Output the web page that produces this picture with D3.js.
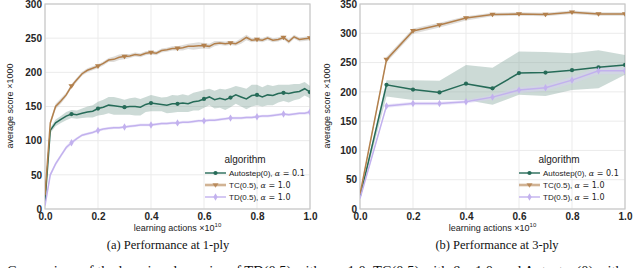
<!DOCTYPE html>
<html>
<head>
<meta charset="utf-8">
<script src="https://cdn.jsdelivr.net/npm/d3@7"></script>
<style>
  body { margin: 0; background: #fff; }
  svg { display: block; }
</style>
</head>
<body>
<svg id="fig" width="640" height="268" font-family="'Liberation Sans', Arial, sans-serif"></svg>
<script>
// ---- data: panel (a) 1-ply, x in steps of 0.02 ----
const xA = d3.range(0, 51).map(i => +(i * 0.02).toFixed(2));
const autoA = [10,115,126,131,136,139,138,140,142,143,147,149,152,151,150,149,150,150,149,153,155,154,153,152,154,154,155,154,157,158,161,164,160,162,160,163,167,164,161,166,167,164,167,166,169,170,169,171,172,176,171];
const autoSpreadA = [4,4,5,5,6,6,6,7,8,9,10,11,12,13,12,11,12,13,12,11,12,11,10,12,13,12,13,12,13,14,13,12,13,14,15,14,13,14,15,16,15,14,15,14,13,12,13,12,11,10,9];
const tcA = [20,126,150,158,167,180,189,198,203,206,209,213,218,219,222,223,224,226,225,228,229,228,232,233,235,235,236,238,238,239,239,238,242,243,242,243,242,246,251,247,248,247,250,247,248,251,245,252,248,249,250];
const tcSpreadA = [3,4,4,4,3,3,3,3,3,3,3,3,3,4,4,4,3,3,3,3,3,3,3,3,3,3,4,4,5,5,4,4,4,3,3,3,3,4,4,3,3,3,3,3,3,3,3,3,3,3,3];
const tdA = [5,50,66,78,90,97,103,108,110,112,115,117,118,119,119,120,121,122,123,123,123,124,125,125,126,126,127,127,128,129,129,130,130,131,132,133,133,133,134,134,135,136,136,137,138,139,138,139,140,140,142];
const tdSpreadA = [2,3,3,3,3,3,2,2,2,2,2,2,2,2,2,2,2,2,2,2,2,2,2,2,2,2,2,2,2,2,2,2,2,2,2,2,2,2,2,2,2,2,2,2,2,2,2,2,2,2,3];

// ---- data: panel (b) 3-ply, x in steps of 0.1 ----
const xB = d3.range(0, 11).map(i => +(i * 0.1).toFixed(1));
const autoB = [20,212,204,199,214,206,232,233,237,242,246];
const autoLoB = [18,192,186,186,186,178,195,193,203,206,229];
const autoHiB = [22,220,220,219,246,241,269,268,266,271,263];
const tcB = [25,255,304,314,326,332,333,332,336,333,333];
const tcLoB = [22,250,299,310,322,329,330,329,333,330,330];
const tcHiB = [28,260,308,318,329,335,336,335,339,336,336];
const tdB = [18,176,180,180,183,191,203,207,220,236,236];
const tdLoB = [16,173,177,177,180,187,198,202,214,230,230];
const tdHiB = [20,179,183,183,186,195,208,212,226,242,242];

const xTicks = [0, 0.2, 0.4, 0.6, 0.8, 1.0];
const legendLabels = ["Autostep(0), ", "TC(0.5), ", "TD(0.5), "];
const legendAlpha = ["0.1", "1.0", "1.0"];

const colors = {auto: "#266b58", tc: "#b3804c", td: "#c2b1ee"};
const bandColors = {auto: "#8faea3", tc: "#b9b3ad", td: "#d8cff5"};
const serif = "'Liberation Serif', 'Times New Roman', serif";

const svg = d3.select("#fig");

function panel(opt) {
  const x = d3.scaleLinear().domain([0, 1]).range([opt.x0, opt.x1]);
  const y = d3.scaleLinear().domain([0, opt.ymax]).range([209, 4]);
  const g = svg.append("g");

  // grid
  g.selectAll(".gy").data(y.ticks(opt.ymax / 50)).enter().append("line")
    .attr("x1", opt.x0).attr("x2", opt.x1)
    .attr("y1", d => y(d)).attr("y2", d => y(d))
    .attr("stroke", "#ebebeb").attr("stroke-width", 1);
  g.selectAll(".gx").data(xTicks).enter().append("line")
    .attr("x1", d => x(d)).attr("x2", d => x(d))
    .attr("y1", 4).attr("y2", 209)
    .attr("stroke", "#ebebeb").attr("stroke-width", 1);

  // frame
  g.append("rect").attr("x", opt.x0).attr("y", 4)
    .attr("width", opt.x1 - opt.x0).attr("height", 205)
    .attr("fill", "none").attr("stroke", "#c8c8c8").attr("stroke-width", 1.2);

  // axes labels
  const yAxis = d3.axisLeft(y).ticks(opt.ymax / 50).tickSize(0).tickPadding(3);
  const ya = g.append("g").attr("transform", `translate(${opt.x0},0)`).call(yAxis);
  const xAxis = d3.axisBottom(x).tickValues(xTicks).tickFormat(d3.format(".1f")).tickSize(0).tickPadding(4);
  const xa = g.append("g").attr("transform", "translate(0,209)").call(xAxis);
  [ya, xa].forEach(a => {
    a.select(".domain").remove();
    a.attr("font-family", null);
    a.selectAll("text").attr("font-size", 10).attr("font-weight", "bold").attr("fill", "#262626");
  });

  // titles
  g.append("text").attr("transform", `translate(${opt.ytx},106) rotate(-90)`)
    .attr("text-anchor", "middle").attr("font-size", 9).attr("fill", "#222")
    .text("average score ×1000");
  const xt = g.append("text").attr("x", (opt.x0 + opt.x1) / 2).attr("y", 231)
    .attr("text-anchor", "middle").attr("font-size", 9).attr("fill", "#222");
  xt.append("tspan").text("learning actions ×10");
  xt.append("tspan").attr("dy", -4).attr("font-size", 6).text("10");

  g.append("text").attr("x", opt.capX).attr("y", 249)
    .attr("text-anchor", "middle").attr("font-size", 12.5)
    .attr("font-family", serif).attr("fill", "#111")
    .text(opt.caption);

  // series
  const clip = "clip" + opt.id;
  svg.append("clipPath").attr("id", clip).append("rect")
    .attr("x", opt.x0).attr("y", 4).attr("width", opt.x1 - opt.x0).attr("height", 205);
  const pg = g.append("g").attr("clip-path", `url(#${clip})`);

  opt.series.forEach(s => {
    const pts = opt.xs.map((xv, i) => ({x: xv, v: s.vals[i], lo: s.lo[i], hi: s.hi[i]}));
    pg.append("path").datum(pts)
      .attr("d", d3.area().x(d => x(d.x)).y0(d => y(d.lo)).y1(d => y(d.hi)))
      .attr("fill", bandColors[s.key]).attr("fill-opacity", 0.45);
  });
  opt.series.forEach(s => {
    const pts = opt.xs.map((xv, i) => ({x: xv, v: s.vals[i]}));
    pg.append("path").datum(pts)
      .attr("d", d3.line().x(d => x(d.x)).y(d => y(d.v)))
      .attr("fill", "none").attr("stroke", colors[s.key]).attr("stroke-width", 1.5);
    const mk = pts.filter((d, i) => i > 0 && i % opt.markEvery === 0);
    pg.selectAll(".m" + s.key).data(mk).enter().append("path")
      .attr("transform", d => `translate(${x(d.x)},${y(d.v)})`)
      .attr("d", d3.symbol().type(s.sym).size(s.symSize))
      .attr("fill", colors[s.key]);
  });

  // legend
  const lg = g.append("g");
  lg.append("text").attr("x", opt.legX + 40).attr("y", 163)
    .attr("text-anchor", "middle").attr("font-size", 10).attr("fill", "#222").text("algorithm");
  opt.series.forEach((s, i) => {
    const ly = 173 + i * 12;
    lg.append("line").attr("x1", opt.legX).attr("x2", opt.legX + 21)
      .attr("y1", ly).attr("y2", ly).attr("stroke", colors[s.key])
      .attr("stroke-width", s.key === "tc" ? 2.6 : 1.4)
      .attr("stroke-opacity", s.key === "tc" ? 0.6 : 1);
    lg.append("path").attr("transform", `translate(${opt.legX + 10.5},${ly})`)
      .attr("d", d3.symbol().type(s.sym).size(s.symSize)).attr("fill", colors[s.key])
      .attr("fill-opacity", s.key === "tc" ? 0.8 : 1);
    const t = lg.append("text").attr("x", opt.legX + 24).attr("y", ly + 3)
      .attr("font-size", 8).attr("fill", "#222");
    t.append("tspan").text(legendLabels[i]);
    t.append("tspan").attr("font-style", "italic").attr("font-family", "'DejaVu Serif', serif").text("α");
    t.append("tspan").attr("font-family", "'DejaVu Sans', sans-serif").text(" = " + legendAlpha[i]);
  });
}

// down-pointing triangle
const triDown = {draw(ctx, size) {
  const h = Math.sqrt(size / 0.433) / 2;
  ctx.moveTo(-h, -h * 0.6); ctx.lineTo(h, -h * 0.6); ctx.lineTo(0, h * 0.9); ctx.closePath();
}};

panel({
  id: "a", x0: 45, x1: 310, ymax: 300, ytx: 13, capX: 168, legX: 205,
  caption: "(a) Performance at 1-ply", xs: xA, markEvery: 5,
  series: [
    {key: "auto", vals: autoA, lo: autoA.map((v, i) => v - autoSpreadA[i]), hi: autoA.map((v, i) => v + autoSpreadA[i]), sym: d3.symbolCircle, symSize: 14},
    {key: "tc", vals: tcA, lo: tcA.map((v, i) => v - tcSpreadA[i]), hi: tcA.map((v, i) => v + tcSpreadA[i]), sym: triDown, symSize: 16},
    {key: "td", vals: tdA, lo: tdA.map((v, i) => v - tdSpreadA[i]), hi: tdA.map((v, i) => v + tdSpreadA[i]), sym: d3.symbolDiamond, symSize: 16}
  ]
});

panel({
  id: "b", x0: 360, x1: 625, ymax: 350, ytx: 330, capX: 497, legX: 519,
  caption: "(b) Performance at 3-ply", xs: xB, markEvery: 1,
  series: [
    {key: "auto", vals: autoB, lo: autoLoB, hi: autoHiB, sym: d3.symbolCircle, symSize: 14},
    {key: "tc", vals: tcB, lo: tcLoB, hi: tcHiB, sym: triDown, symSize: 16},
    {key: "td", vals: tdB, lo: tdLoB, hi: tdHiB, sym: d3.symbolDiamond, symSize: 16}
  ]
});

// figure caption (cut off at the bottom edge)
const cap = svg.append("text").attr("y", 276).attr("font-size", 14.5)
  .attr("font-family", serif).attr("fill", "#111");
cap.append("tspan").attr("x", 7).text("Comparison of the learning dynamics of TD(0.5) with ");
cap.append("tspan").attr("font-style", "italic").text("α");
cap.append("tspan").text(" = 1.0, TC(0.5) with ");
cap.append("tspan").attr("font-style", "italic").text("β");
cap.append("tspan").text(" = 1.0, and Autostep(0) with ");
cap.append("tspan").attr("font-style", "italic").text("α");
cap.append("tspan").text(" = 0.1.");
svg.append("text").attr("x", 4).attr("y", 276).attr("text-anchor", "end").attr("font-size", 14.5)
  .attr("font-family", serif).attr("fill", "#111")
  .text("Figure 5:");
</script>
</body>
</html>
